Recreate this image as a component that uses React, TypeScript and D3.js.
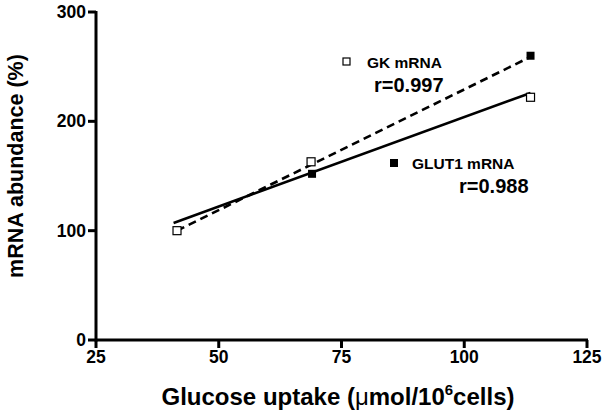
import React from "react";
import * as d3 from "d3";

// measured points (open = GK, filled = GLUT1)
const gkPoints = [
  { x: 41.5, y: 100 },
  { x: 68.8, y: 163 },
  { x: 113.5, y: 222 },
];
const glut1Points = [
  { x: 69.0, y: 152 },
  { x: 113.5, y: 260 },
];
// regression lines as drawn in the figure
const dashedLine = [
  { x: 41.5, y: 100 },
  { x: 113.5, y: 259 },
];
const solidLine = [
  { x: 40.8, y: 107 },
  { x: 113.5, y: 226 },
];
const xTicks = [25, 50, 75, 100, 125];
const yTicks = [0, 100, 200, 300];

const FONT = "'Liberation Sans', Arial, sans-serif";

export default function App() {
  const width = 603;
  const height = 413;
  const x = d3.scaleLinear().domain([25, 125]).range([96, 587]);
  const y = d3.scaleLinear().domain([0, 300]).range([340, 12]);

  const line = d3
    .line<{ x: number; y: number }>()
    .x((d) => x(d.x))
    .y((d) => y(d.y));

  const sq = 8;

  return (
    <svg
      width={width}
      height={height}
      style={{ position: "absolute", left: 0, top: 0, background: "#fff" }}
      fontFamily={FONT}
    >
      {/* axes */}
      <line x1={x(25)} x2={x(125) + 1} y1={y(0)} y2={y(0)} stroke="#000" strokeWidth={3} />
      <line x1={x(25)} x2={x(25)} y1={y(300) - 1} y2={y(0) + 1.5} stroke="#000" strokeWidth={3} />
      {xTicks.map((t) => (
        <g key={"x" + t}>
          <line x1={x(t)} x2={x(t)} y1={y(0)} y2={y(0) + 8} stroke="#000" strokeWidth={3} />
          <text x={x(t)} y={363} textAnchor="middle" fontSize={17.5} fontWeight="bold">
            {t}
          </text>
        </g>
      ))}
      {yTicks.map((t) => (
        <g key={"y" + t}>
          <line x1={x(25) - 8} x2={x(25)} y1={y(t)} y2={y(t)} stroke="#000" strokeWidth={3} />
          <text x={86} y={y(t) + 6} textAnchor="end" fontSize={17.5} fontWeight="bold">
            {t}
          </text>
        </g>
      ))}

      {/* axis titles */}
      <text
        transform={`translate(23,166) rotate(-90)`}
        textAnchor="middle"
        fontSize={21.5}
        fontWeight="bold"
      >
        mRNA abundance (%)
      </text>
      <text x={338} y={405} textAnchor="middle" fontSize={24} fontWeight="bold">
        Glucose uptake (<tspan fontWeight="normal">μ</tspan>mol/10
        <tspan fontSize={15} dy={-10}>6</tspan>
        <tspan dy={10}>cells)</tspan>
      </text>

      {/* fit lines */}
      <path d={line(solidLine) || ""} fill="none" stroke="#000" strokeWidth={2.6} />
      <path
        d={line(dashedLine) || ""}
        fill="none"
        stroke="#000"
        strokeWidth={2.6}
        strokeDasharray="8,5"
      />

      {/* points */}
      {gkPoints.map((d, i) => (
        <rect
          key={"gk" + i}
          x={x(d.x) - sq / 2}
          y={y(d.y) - sq / 2}
          width={sq}
          height={sq}
          fill="#fff"
          stroke="#000"
          strokeWidth={1.2}
        />
      ))}
      {glut1Points.map((d, i) => (
        <rect
          key={"gl" + i}
          x={x(d.x) - sq / 2}
          y={y(d.y) - sq / 2}
          width={sq}
          height={sq}
          fill="#000"
        />
      ))}

      {/* legend */}
      <rect x={343} y={58} width={7} height={7} fill="#fff" stroke="#000" strokeWidth={1.2} />
      <text x={367} y={68} fontSize={15.5} fontWeight="bold">
        GK mRNA
      </text>
      <text x={374} y={92} fontSize={20} fontWeight="bold">
        r=0.997
      </text>
      <rect x={390} y={159} width={8} height={8} fill="#000" />
      <text x={412} y={169} fontSize={15.5} fontWeight="bold">
        GLUT1 mRNA
      </text>
      <text x={459} y={193} fontSize={20} fontWeight="bold">
        r=0.988
      </text>
    </svg>
  );
}
